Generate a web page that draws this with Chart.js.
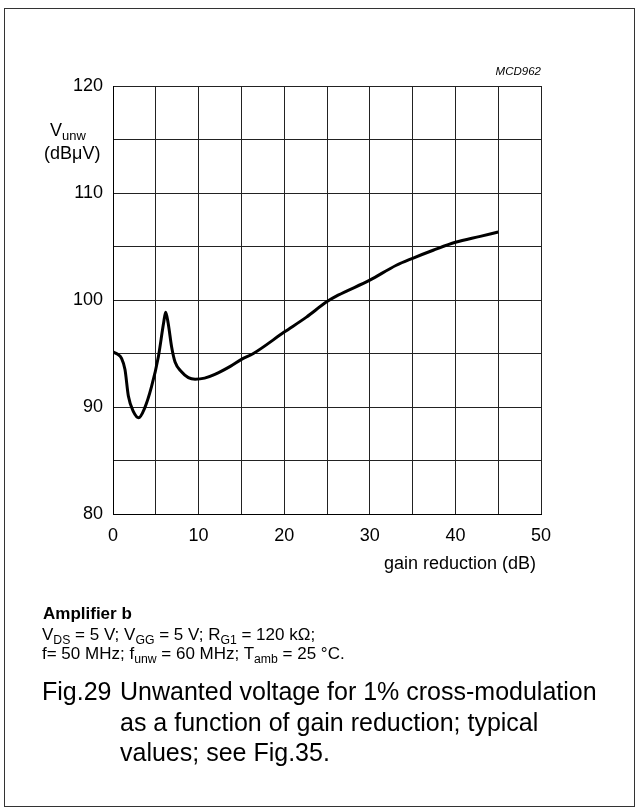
<!DOCTYPE html>
<html>
<head>
  <title>Fig.29 Unwanted voltage vs gain reduction</title>
  <script src="https://cdn.jsdelivr.net/npm/chart.js"></script>
  <style>
    body { margin: 0; background: #fff; font-family: "Liberation Sans", Arial, sans-serif; }
    #page { position: relative; width: 639px; height: 812px; overflow: hidden; }
    #frame { position: absolute; left: 4px; top: 8px; width: 629px; height: 797px; border: 1px solid #333; }
    canvas { position: absolute; left: 0; top: 0; }
    .txt { position: absolute; white-space: nowrap; line-height: 1; color: #000; }
    sub { font-size: 0.72em; vertical-align: -0.3em; line-height: 0; }
  </style>
</head>
<body>
  <div id="page">
    <div id="frame"></div>
    <canvas id="chart" width="639" height="812"></canvas>

    <!-- annotations around the plot -->
    <div class="txt" style="right:98px; top:66px; font-size:11.5px; font-style:italic;">MCD962</div>
    <div class="txt" style="left:50px; top:121px; font-size:18px;">V<sub>unw</sub></div>
    <div class="txt" style="left:44px; top:144px; font-size:18px;">(dB&mu;V)</div>
    <div class="txt" style="right:103px; top:554px; font-size:18px;">gain reduction (dB)</div>

    <!-- caption -->
    <div class="txt" style="left:43px; top:605px; font-size:17px; font-weight:bold;">Amplifier b</div>
    <div class="txt" style="left:42px; top:626px; font-size:17px;">V<sub>DS</sub> = 5 V; V<sub>GG</sub> = 5 V; R<sub>G1</sub> = 120 k&Omega;;</div>
    <div class="txt" style="left:42px; top:645px; font-size:17px;">f= 50 MHz; f<sub>unw</sub> = 60 MHz; T<sub>amb</sub> = 25 &deg;C.</div>
    <div class="txt" style="left:42px; top:679px; font-size:25px;">Fig.29</div>
    <div class="txt" style="left:120px; top:679px; font-size:25px;">Unwanted voltage for 1% cross-modulation</div>
    <div class="txt" style="left:120px; top:710px; font-size:25px;">as a function of gain reduction; typical</div>
    <div class="txt" style="left:120px; top:740px; font-size:25px;">values; see Fig.35.</div>
  </div>

  <script>
    // curve
    const gainReduction = [0, 0.5, 1.0, 1.4, 1.8, 2.4, 3.0, 3.7, 4.5, 5.3, 5.9, 6.15, 6.45, 6.85, 7.25, 8.0, 8.8, 9.6,
      10.7, 11.9, 13.7, 15, 16.4, 20, 22.6, 25, 26.3, 30, 33.1, 35, 37.4, 40, 42.9, 45];
    const vUnwanted = [95.15, 94.95, 94.55, 93.5, 91.0, 89.55, 89.0, 89.9, 91.9, 94.7, 97.8, 98.85, 97.8, 95.6, 94.2, 93.3, 92.75, 92.6,
      92.7, 93.05, 93.8, 94.45, 95.0, 97.0, 98.4, 99.85, 100.45, 101.85, 103.25, 103.9, 104.65, 105.4, 105.95, 106.35];

    const xTickLabels = [0, 10, 20, 30, 40, 50];
    const yTickLabels = [80, 90, 100, 110, 120];

    const fontFamily = '"Liberation Sans", Arial, sans-serif';

    const ctx = document.getElementById('chart').getContext('2d');
    new Chart(ctx, {
      type: 'line',
      data: {
        datasets: [{
          data: gainReduction.map((g, i) => ({ x: g, y: vUnwanted[i] })),
          borderColor: '#000',
          borderWidth: 3,
          pointRadius: 0,
          cubicInterpolationMode: 'monotone',
          fill: false
        }]
      },
      options: {
        responsive: false,
        animation: false,
        devicePixelRatio: 1,
        layout: { padding: { left: 0, top: 86, right: 98, bottom: 238 } },
        plugins: { legend: { display: false }, tooltip: { enabled: false } },
        scales: {
          x: {
            type: 'linear',
            min: 0,
            max: 50,
            ticks: {
              stepSize: 5,
              autoSkip: false,
              maxRotation: 0,
              padding: 11,
              color: '#000',
              font: { family: fontFamily, size: 18 },
              callback: v => xTickLabels.includes(v) ? String(v) : ''
            },
            grid: { color: '#222', lineWidth: 1, drawTicks: false },
            border: { color: '#000', width: 1 },
            afterFit: s => { s.height = 60; }
          },
          y: {
            min: 80,
            max: 120,
            ticks: {
              stepSize: 5,
              padding: 10,
              color: '#000',
              font: { family: fontFamily, size: 18 },
              callback: v => yTickLabels.includes(v) ? String(v) : ''
            },
            grid: { color: '#222', lineWidth: 1, drawTicks: false },
            border: { color: '#000', width: 1 },
            afterFit: s => { s.width = 113; }
          }
        }
      }
    });
  </script>
</body>
</html>
